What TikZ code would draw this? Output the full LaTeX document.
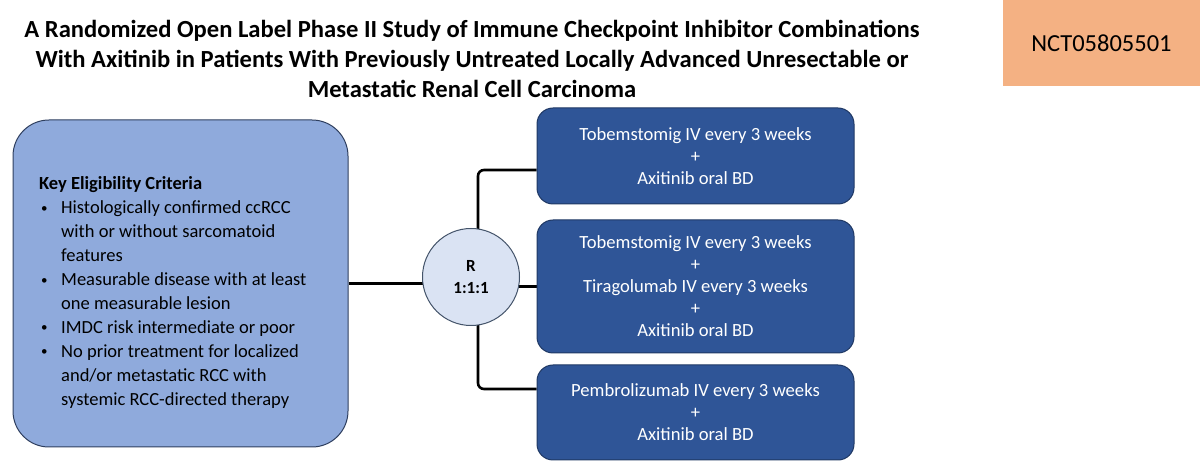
\documentclass[tikz,border=0pt]{standalone}
\usepackage{fontspec}
\setmainfont{Carlito}
\usetikzlibrary{backgrounds,calc}
\definecolor{leftfill}{HTML}{8FAADC}
\definecolor{leftdraw}{HTML}{2F3F5F}
\definecolor{circfill}{HTML}{DAE3F3}
\definecolor{circdraw}{HTML}{44546A}
\definecolor{armfill}{HTML}{2F5597}
\definecolor{armdraw}{HTML}{1F3864}
\definecolor{nctfill}{HTML}{F4B183}
\newcommand{\mybul}{\hspace{2pt}\raisebox{1.5pt}{\fontsize{13}{13}\selectfont •}}
\tikzset{
  armbox/.style={draw=armdraw, line width=1pt, fill=armfill, rounded corners=16pt,
    minimum width=317pt, align=center, text=white, inner sep=0pt,
    font=\fontsize{18.6}{22}\selectfont},
  link/.style={line width=2.6pt, black},
}
\begin{document}
\begin{tikzpicture}[x=1pt,y=1pt]
\useasboundingbox (0,0) rectangle (1200,474);
% title
\node[anchor=north, inner sep=0pt, align=center,
      font=\bfseries\fontsize{24.6}{30}\selectfont] (title) at (472,454)
  {A Randomized Open Label Phase II Study of Immune Checkpoint Inhibitor Combinations\\
   With Axitinib in Patients With Previously Untreated Locally Advanced Unresectable or\\
   Metastatic Renal Cell Carcinoma};
% NCT
\node[fill=nctfill, minimum width=197pt, minimum height=86pt, inner sep=0pt,
      font=\fontsize{24.5}{28}\selectfont] (nct) at (1101.5,431) {NCT05805501};
% left box
\node[draw=leftdraw, line width=1pt, fill=leftfill, rounded corners=36pt,
      minimum width=335pt, minimum height=327pt] (L) at (180.5,190.5) {};
\node[anchor=base west, inner sep=0pt, font=\fontsize{18.5}{23.9}\selectfont] (crit) at (39,284)
  {\begin{tabular}[t]{@{}p{22pt}@{}l@{}}
   \multicolumn{2}{@{}l@{}}{\bfseries Key Eligibility Criteria}\\
   \mybul & Histologically confirmed ccRCC\\
   & with or without sarcomatoid\\
   & features\\
   \mybul & Measurable disease with at least\\
   & one measurable lesion\\
   \mybul & IMDC risk intermediate or poor\\
   \mybul & No prior treatment for localized\\
   & and/or metastatic RCC with\\
   & systemic RCC-directed therapy
   \end{tabular}};
% randomisation circle
\node[circle, draw=circdraw, line width=1pt, fill=circfill, minimum size=97pt, inner sep=0pt,
      align=center, font=\bfseries\fontsize{17}{22}\selectfont] (c) at (471,197) {R\\1:1:1};
% arms
\node[armbox, minimum height=96pt] (B1) at (695.5,318)
  {Tobemstomig IV every 3 weeks\\+\\Axitinib oral BD};
\node[armbox, minimum height=133pt] (B2) at (695.5,187.5)
  {Tobemstomig IV every 3 weeks\\+\\Tiragolumab IV every 3 weeks\\+\\Axitinib oral BD};
\node[armbox, minimum height=95pt] (B3) at (695.5,61.5)
  {Pembrolizumab IV every 3 weeks\\+\\Axitinib oral BD};
\coordinate (t1) at ($(B1.west)+(0,-14)$);
\coordinate (t3) at ($(B3.west)+(0,23.5)$);
\coordinate (ctop) at ($(c.center)+(7,0)$);
\begin{scope}[on background layer]
  \draw[link] (L.east) -- (L.east -| c);
  \draw[link] (B2.west) -- (B2.west -| c);
  \draw[link, rounded corners=6pt] (ctop) |- (t1);
  \draw[link, rounded corners=6pt] (ctop) |- (t3);
\end{scope}
\end{tikzpicture}
\end{document}
